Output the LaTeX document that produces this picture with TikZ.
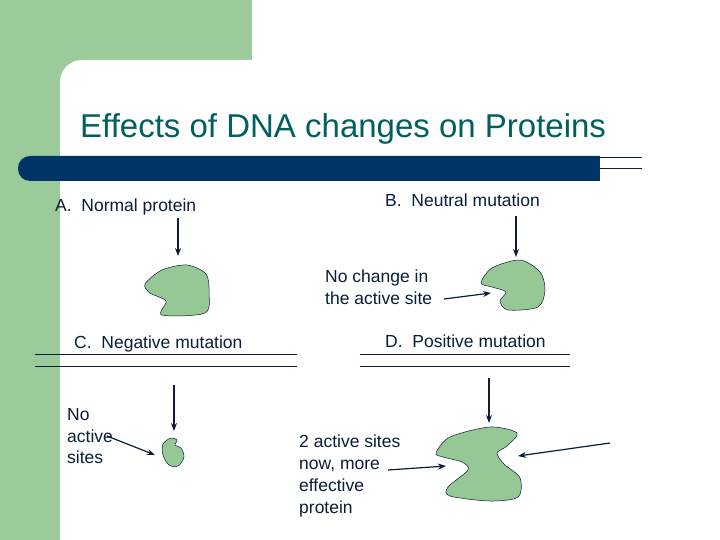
\documentclass[tikz,border=0pt]{standalone}
\usepackage{fontspec}
\setmainfont{Liberation Sans}
\usetikzlibrary{arrows.meta}
\definecolor{lgreen}{RGB}{155,203,155}
\definecolor{pgreen}{RGB}{150,200,150}
\definecolor{navy}{RGB}{0,51,102}
\definecolor{teal2}{RGB}{0,95,95}
\definecolor{txt}{RGB}{10,30,55}
\begin{document}
\begin{tikzpicture}[x=1pt,y=-1pt,
  lbl/.style={font=\fontsize{17.5}{21.8}\selectfont,text=txt,inner sep=0pt,align=left},
  arr/.style={draw=txt,line width=1.2pt,-{Stealth[length=8pt,width=6pt]}},
  prot/.style={fill=pgreen,draw=txt,line width=0.5pt},
  rule/.style={draw=txt,line width=0.6pt}]
\useasboundingbox (0,0) rectangle (720,540);
\fill[lgreen] (0,0) rectangle (252,60);
\fill[lgreen] (0,0) rectangle (100,100);
\fill[lgreen] (0,0) rectangle (60,540);
\fill[white,rounded corners=22pt] (60,60) rectangle (760,580);
\fill[lgreen] (0,100) rectangle (60,540);
\node[font=\fontsize{33}{36}\selectfont,text=teal2,anchor=west,inner sep=0pt] (title) at (80,129) {Effects of DNA changes on Proteins};
\fill[navy,rounded corners=12pt] (18,156) rectangle (620,181);
\fill[navy] (580,156) rectangle (600,181);
\fill[white] (600,150) rectangle (660,190);
\draw[rule] (600,157) -- (642,157);
\draw[rule] (600,168) -- (642,168);
% labels
\node[lbl,anchor=west] (A) at (55,207) {A.\ \ Normal protein};
\node[lbl,anchor=west] (B) at (385,200) {B.\ \ Neutral mutation};
\node[lbl,anchor=north west] (nc) at (325,270) {No change in\\the active site};
\node[lbl,anchor=west] (C) at (74,344) {C.\ \ Negative mutation};
\node[lbl,anchor=west] (D) at (385,341) {D.\ \ Positive mutation};
\node[lbl,anchor=north west] (na) at (67,408) {No\\active\\sites};
\node[lbl,anchor=north west] (two) at (299,435) {2 active sites\\now, more\\effective\\protein};
% rules
\draw[rule] (35,354) -- (297,354);
\draw[rule] (35,366) -- (297,366);
\draw[rule] (360,354) -- (570,354);
\draw[rule] (360,366) -- (570,366);
% proteins
\draw[prot] plot[smooth cycle,tension=0.5] coordinates{(145,284)(162,270)(187,265)(206,274)(209,292)(205,313)(162,315)(166,301)(150,293)};
\draw[prot] plot[smooth cycle,tension=0.5] coordinates{(492,268)(520,260)(540,272)(545,290)(538,307)(508,310)(500,301)(506,292)(492,287)(481,283)};
\draw[prot] plot[smooth cycle,tension=0.55] coordinates{(163,444)(171,438)(177,440)(175,445)(181,448)(184,457)(178,466)(169,465)(163,455)};
\draw[prot] plot[smooth cycle,tension=0.5] coordinates{(436,453)(450,437)(490,427)(517,433)(507,446)(497,453)(504,464)(520,478)(518,497)(490,501)(450,496)(448,487)(468,470)(462,462)(443,457)};
% arrows
\coordinate (a1) at (178,218); \coordinate (a2) at (178,256);
\coordinate (b1) at (516,216); \coordinate (b2) at (516,257);
\coordinate (n1) at (444,299); \coordinate (n2) at (491,293);
\coordinate (c1) at (174,385); \coordinate (c2) at (174,431);
\coordinate (s1) at (107,436); \coordinate (s2) at (155,455);
\coordinate (d1) at (489,378); \coordinate (d2) at (489,423);
\coordinate (t1) at (388,470); \coordinate (t2) at (446,466);
\coordinate (r1) at (610,443); \coordinate (r2) at (518,456);
\draw[arr] (a1) -- (a2);
\draw[arr] (b1) -- (b2);
\draw[arr] (n1) -- (n2);
\draw[arr] (c1) -- (c2);
\draw[arr] (s1) -- (s2);
\draw[arr] (d1) -- (d2);
\draw[arr] (t1) -- (t2);
\draw[arr] (r1) -- (r2);
\end{tikzpicture}
\end{document}
